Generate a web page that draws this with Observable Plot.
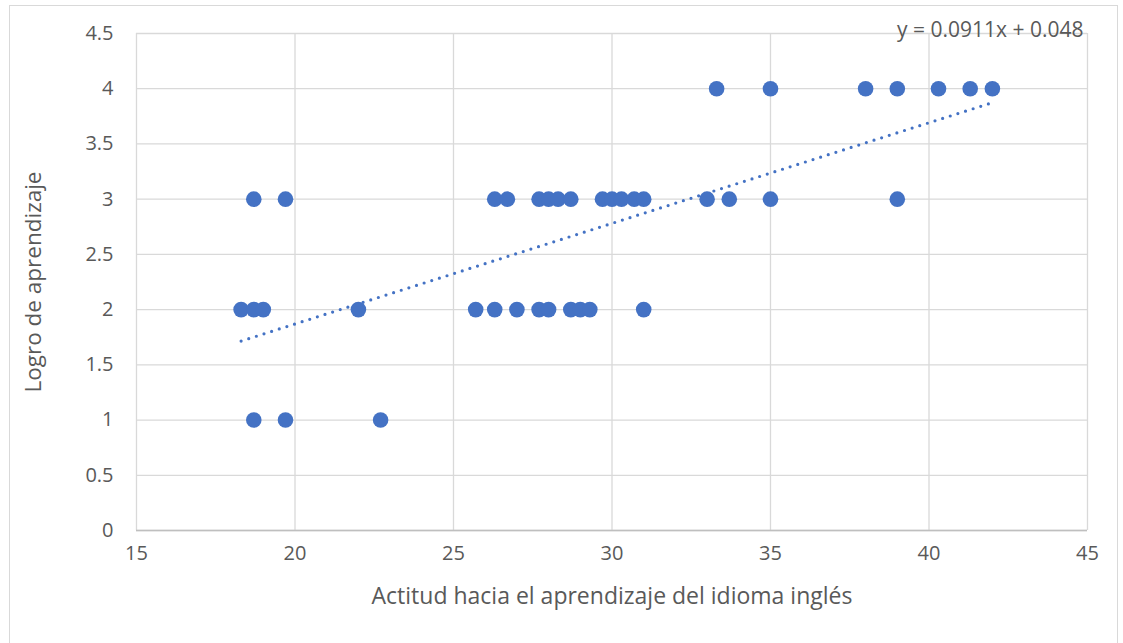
<!DOCTYPE html>
<html>
<head>
<meta charset="utf-8">
<script src="https://cdn.jsdelivr.net/npm/d3@7"></script>
<script src="https://cdn.jsdelivr.net/npm/@observablehq/plot@0.6"></script>
<style>
  html, body { margin: 0; padding: 0; background: #fff; overflow: hidden; }
  #wrap { position: relative; width: 1123px; height: 643px; overflow: hidden; }
  #frame { position: absolute; left: 9px; top: 5px; width: 1109px; height: 650px; border: 1px solid #d9d9d9; box-sizing: border-box; pointer-events: none; }
  svg { font-family: "Open Sans", "Liberation Sans", sans-serif; }
</style>
</head>
<body>
<div id="wrap"><div id="frame"></div></div>
<script>
// Data
const actitud3 = [18.7, 19.7, 26.3, 26.7, 27.7, 28.0, 28.3, 28.7, 29.7, 30.0, 30.3, 30.7, 31.0, 33.0, 33.7, 35.0, 39.0];
const actitud2 = [18.3, 18.7, 19.0, 22.0, 25.7, 26.3, 27.0, 27.7, 28.0, 28.7, 29.0, 29.3, 31.0];
const actitud1 = [18.7, 19.7, 22.7];
const actitud4 = [33.3, 35.0, 38.0, 39.0, 40.3, 41.3, 42.0];
const slope = 0.0911;
const intercept = 0.048;
const trendRange = [18.3, 42.0];
const xTicks = [15, 20, 25, 30, 35, 40, 45];
const yTicks = [0, 0.5, 1, 1.5, 2, 2.5, 3, 3.5, 4, 4.5];
const xTitle = "Actitud hacia el aprendizaje del idioma inglés";
const yTitle = "Logro de aprendizaje";
const eqLabel = "y = 0.0911x + 0.048";

const points = [
  ...actitud1.map(x => ({x, y: 1})),
  ...actitud2.map(x => ({x, y: 2})),
  ...actitud3.map(x => ({x, y: 3})),
  ...actitud4.map(x => ({x, y: 4}))
];
const trend = trendRange.map(x => ({x, y: slope * x + intercept}));

const color = "#4472C4";
const textColor = "#595959";

const chart = Plot.plot({
  width: 1123,
  height: 643,
  marginLeft: 136,
  marginRight: 36,
  marginTop: 33,
  marginBottom: 113,
  style: {fontSize: "20px", color: textColor, background: "transparent", overflow: "visible"},
  x: {domain: [15, 45]},
  y: {domain: [0, 4.5]},
  marks: [
    Plot.gridX(xTicks, {stroke: "#d9d9d9", strokeOpacity: 1, strokeWidth: 1.3}),
    Plot.gridY(yTicks, {stroke: "#d9d9d9", strokeOpacity: 1, strokeWidth: 1.3}),
    Plot.ruleY([0], {stroke: "#bfbfbf", strokeWidth: 1.3}),
    Plot.axisX(xTicks, {tickSize: 0, tickPadding: 15, fill: textColor, fontSize: 20, label: null, tickFormat: d => String(d)}),
    Plot.axisY(yTicks, {tickSize: 0, tickPadding: 23, fill: textColor, fontSize: 20, label: null, tickFormat: d => String(d)}),
    Plot.line(trend, {x: "x", y: "y", stroke: color, strokeWidth: 3.2, strokeLinecap: "round", strokeDasharray: "0,8"}),
    Plot.dot(points, {x: "x", y: "y", r: 7.8, fill: color, stroke: "none"}),
    Plot.text([xTitle], {frameAnchor: "bottom", textAnchor: "middle", dy: 73, fontSize: 23, fill: textColor}),
    Plot.text([yTitle], {frameAnchor: "left", textAnchor: "middle", dx: -103, rotate: -90, fontSize: 22.5, fill: textColor}),
    Plot.text([eqLabel], {frameAnchor: "top-right", textAnchor: "end", dx: -4, dy: -11, fontSize: 21, fill: textColor})
  ]
});
document.getElementById("wrap").prepend(chart);
</script>
</body>
</html>
